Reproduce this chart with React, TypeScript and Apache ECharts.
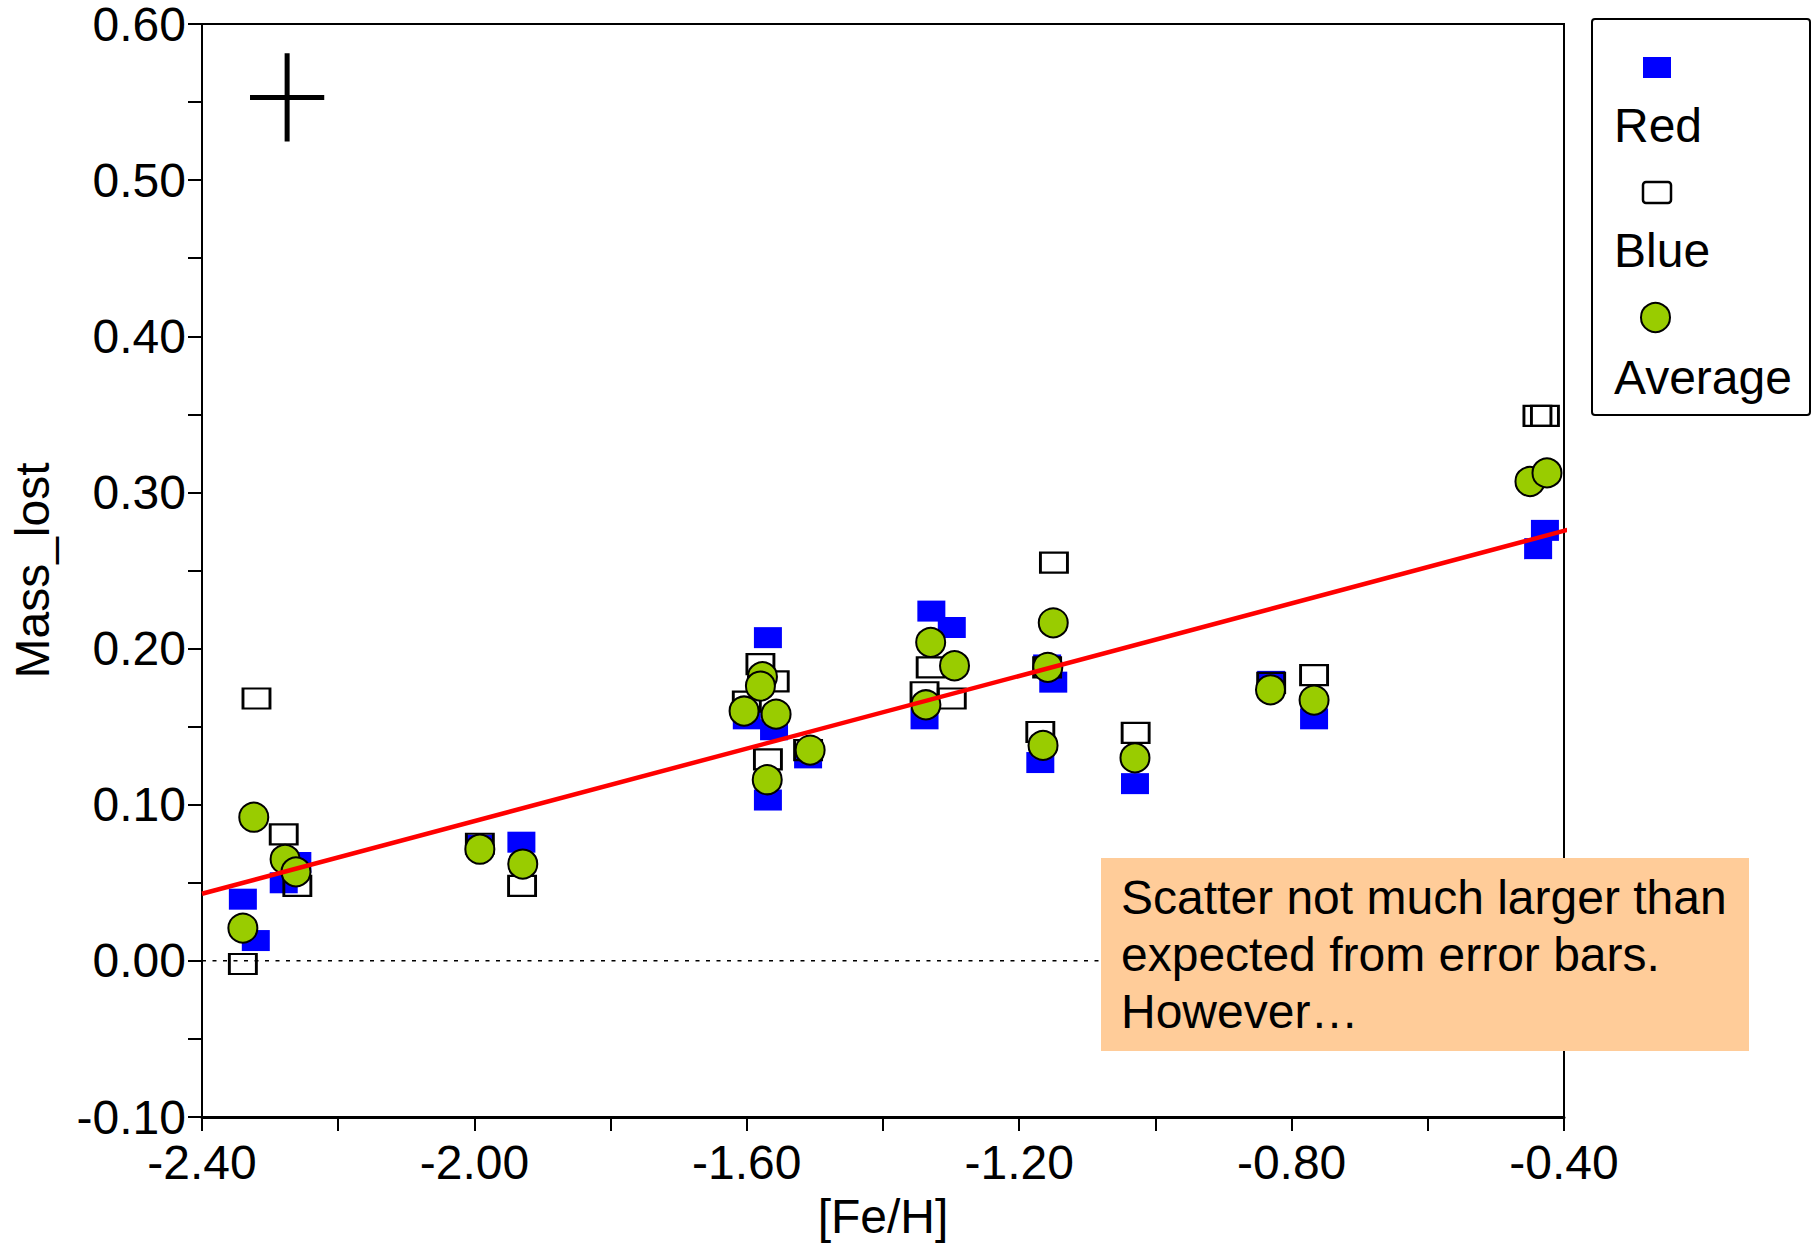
import React, { useEffect, useRef } from 'react';
import * as echarts from 'echarts';

const FONT = '"Liberation Sans", Arial, Helvetica, sans-serif';

// "Red" values
const redX = [-2.340, -2.321, -2.280, -2.260, -1.992, -1.931, -1.569, -1.600, -1.560, -1.569, -1.510, -1.329, -1.299, -1.339, -1.159, -1.150, -1.169, -1.030, -0.830, -0.767, -0.428, -0.438];
const redY = [0.0395, 0.013, 0.050, 0.063, 0.074, 0.076, 0.207, 0.155, 0.148, 0.103, 0.130, 0.224, 0.2135, 0.155, 0.1895, 0.1785, 0.127, 0.1135, 0.179, 0.155, 0.2757, 0.264];

// "Blue" values
const blueX = [-2.340, -2.320, -2.280, -2.260, -1.992, -1.930, -1.580, -1.559, -1.600, -1.569, -1.510, -1.330, -1.299, -1.339, -1.149, -1.159, -1.169, -1.029, -0.830, -0.767, -0.439, -0.428];
const blueY = [-0.002, 0.168, 0.081, 0.048, 0.075, 0.048, 0.190, 0.179, 0.166, 0.129, 0.135, 0.188, 0.168, 0.172, 0.255, 0.188, 0.1466, 0.146, 0.178, 0.183, 0.349, 0.349];

// "Average" values
const avgX = [-2.340, -2.324, -2.278, -2.262, -1.992, -1.929, -1.577, -1.580, -1.604, -1.557, -1.570, -1.507, -1.330, -1.295, -1.337, -1.150, -1.158, -1.165, -1.030, -0.831, -0.767, -0.450, -0.425];
const avgY = [0.021, 0.092, 0.065, 0.057, 0.0715, 0.062, 0.182, 0.176, 0.160, 0.158, 0.116, 0.135, 0.204, 0.189, 0.164, 0.2165, 0.188, 0.138, 0.130, 0.1736, 0.167, 0.307, 0.3125];

// linear fit
const fitX = [-2.4, -0.395];
const fitY = [0.043, 0.276];

// zero reference line
const zeroX = [-2.4, -0.4];
const zeroY = [0, 0];

// typical error bar cross
const errCenterX = -2.275;
const errCenterY = 0.553;
const errHalfX = 0.0545;
const errHalfY = 0.0283;

const xMin = -2.4, xMax = -0.4, xStep = 0.4;
const yMin = -0.1, yMax = 0.6, yStep = 0.1;

const annotationLines = ['Scatter not much larger than', 'expected from error bars.', 'However…'];
const legendNames = ['Red', 'Blue', 'Average'];

const zip = (xs: number[], ys: number[]) => xs.map((x, i) => [x, ys[i]]);

export default function App() {
  const ref = useRef<HTMLDivElement>(null);
  useEffect(() => {
    if (!ref.current) return;
    const chart = echarts.init(ref.current, undefined, { renderer: 'svg' });
    const FS = 48;
    const labelStyle = { fontSize: FS, color: '#000', fontFamily: FONT };
    const option: any = {
      animation: false,
      backgroundColor: '#ffffff',
      grid: { left: 201, top: 19, width: 1363, height: 1098, show: true, borderColor: '#000', borderWidth: 2, backgroundColor: 'transparent' },
      xAxis: {
        type: 'value', min: xMin, max: xMax, interval: xStep,
        name: '[Fe/H]', nameLocation: 'middle', nameGap: 75,
        nameTextStyle: { fontSize: FS, color: '#000', fontFamily: FONT },
        axisLine: { show: true, onZero: false, lineStyle: { color: '#000', width: 3 } },
        axisTick: { show: true, length: 14, lineStyle: { color: '#000', width: 2 } },
        minorTick: { show: true, splitNumber: 2, length: 14, lineStyle: { color: '#000', width: 2 } },
        splitLine: { show: false },
        axisLabel: { ...labelStyle, margin: 21, showMinLabel: true, showMaxLabel: true, formatter: (v: number) => v.toFixed(2) },
      },
      yAxis: {
        type: 'value', min: yMin, max: yMax, interval: yStep,
        name: 'Mass_lost', nameLocation: 'middle', nameGap: 146, nameRotate: 90,
        nameTextStyle: { fontSize: FS, color: '#000', fontFamily: FONT },
        axisLine: { show: true, onZero: false, lineStyle: { color: '#000', width: 2 } },
        axisTick: { show: true, length: 14, lineStyle: { color: '#000', width: 2 } },
        minorTick: { show: true, splitNumber: 2, length: 14, lineStyle: { color: '#000', width: 2 } },
        splitLine: { show: false },
        axisLabel: { ...labelStyle, lineHeight: 36, margin: 16, showMinLabel: true, showMaxLabel: true, formatter: (v: number) => v.toFixed(2) },
      },
      series: [
        {
          type: 'line', name: 'zero', data: zip(zeroX, zeroY), symbol: 'none', silent: true, z: 1,
          lineStyle: { color: '#000', width: 1.5, type: [4, 6.5] },
        },
        {
          type: 'scatter', name: legendNames[0], data: zip(redX, redY), symbol: 'rect', symbolSize: [28, 21], z: 2,
          itemStyle: { color: '#0000FF', opacity: 1 },
        },
        {
          type: 'scatter', name: legendNames[1], data: zip(blueX, blueY), symbol: 'rect', symbolSize: [27, 20], z: 3,
          itemStyle: { color: 'rgba(255,255,255,0)', borderColor: '#000', borderWidth: 2.5, opacity: 1 },
        },
        {
          type: 'scatter', name: legendNames[2], data: zip(avgX, avgY), symbol: 'circle', symbolSize: 29, z: 4,
          itemStyle: { color: '#99CC00', borderColor: '#000', borderWidth: 2, opacity: 1 },
        },
        {
          type: 'line', name: 'fit', data: zip(fitX, fitY), symbol: 'none', clip: false, z: 5, silent: true,
          lineStyle: { color: '#FF0000', width: 4.5 },
        },
        {
          type: 'line', name: 'errX', data: [[errCenterX - errHalfX, errCenterY], [errCenterX + errHalfX, errCenterY]], symbol: 'none', z: 5, silent: true,
          lineStyle: { color: '#000', width: 5 },
        },
        {
          type: 'line', name: 'errY', data: [[errCenterX, errCenterY - errHalfY], [errCenterX, errCenterY + errHalfY]], symbol: 'none', z: 5, silent: true,
          lineStyle: { color: '#000', width: 5 },
        },
      ],
      graphic: [
        // annotation box
        { type: 'rect', z: 100, silent: true, shape: { x: 1101, y: 858, width: 648, height: 193 }, style: { fill: '#FFCC99' } },
        {
          type: 'text', z: 101, silent: true, x: 1121, y: 869,
          style: { text: annotationLines.join('\n'), fontSize: FS, fontFamily: FONT, fill: '#000', lineHeight: 57, verticalAlign: 'top' },
        },
        // legend
        { type: 'rect', z: 100, silent: true, shape: { x: 1592, y: 19, width: 218, height: 396, r: 3 }, style: { fill: '#fff', stroke: '#000', lineWidth: 2 } },
        { type: 'rect', z: 101, silent: true, shape: { x: 1643, y: 57, width: 28, height: 21 }, style: { fill: '#0000FF' } },
        { type: 'text', z: 101, silent: true, x: 1614, y: 125, style: { text: legendNames[0], fontSize: FS, fontFamily: FONT, fill: '#000', verticalAlign: 'middle' } },
        { type: 'rect', z: 101, silent: true, shape: { x: 1643, y: 182, width: 28, height: 21, r: 3 }, style: { fill: '#fff', stroke: '#000', lineWidth: 2.5 } },
        { type: 'text', z: 101, silent: true, x: 1614, y: 250, style: { text: legendNames[1], fontSize: FS, fontFamily: FONT, fill: '#000', verticalAlign: 'middle' } },
        { type: 'circle', z: 101, silent: true, shape: { cx: 1655.5, cy: 317.5, r: 14.5 }, style: { fill: '#99CC00', stroke: '#000', lineWidth: 2 } },
        { type: 'text', z: 101, silent: true, x: 1614, y: 377, style: { text: legendNames[2], fontSize: FS, fontFamily: FONT, fill: '#000', verticalAlign: 'middle' } },
      ],
    };
    chart.setOption(option);
    return () => chart.dispose();
  }, []);
  return <div ref={ref} style={{ position: 'absolute', left: 0, top: 0, width: 1814, height: 1249 }} />;
}
